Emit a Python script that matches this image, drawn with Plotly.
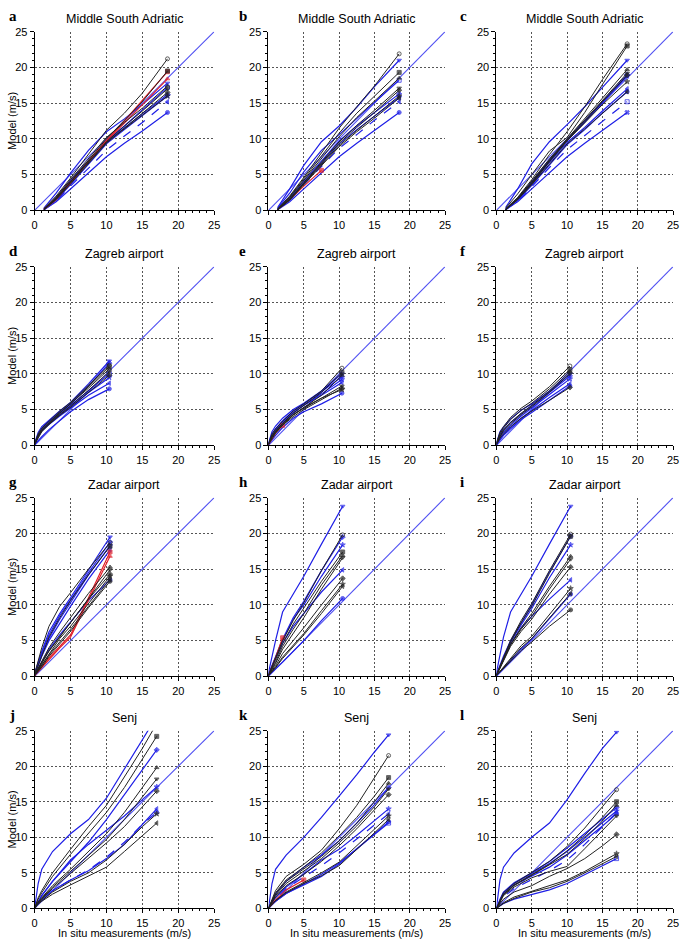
import plotly.graph_objects as go

# ---------------- data ----------------
X_MSA = [1.3, 3, 5, 7.5, 10, 12.5, 15, 18.5]
X_ZAG = [0, 0.5, 1, 2, 3.5, 5, 7.5, 10.4]
X_ZAD = [0, 1, 2, 3.5, 5, 7.5, 10.5]
X_SEN = [0, 0.5, 1, 2.5, 5, 7.5, 10, 12.5, 15, 17]
DIAG = [0, 25]
TICKS = [0, 5, 10, 15, 20, 25]
PANELS = ["a", "b", "c", "d", "e", "f", "g", "h", "i", "j", "k", "l"]
STATIONS = ["Middle South Adriatic", "Zagreb airport", "Zadar airport", "Senj"]
Y_TITLE = "Model (m/s)"
X_TITLE = "In situ measurements (m/s)"

A_BLACK = [
    [0.2, 2.0, 4.5, 7.8, 11.2, 13.6, 16.4, 21.2],
    [0.1, 1.6, 4.0, 7.0, 10.0, 12.6, 15.2, 19.5],
    [0.1, 1.8, 4.3, 7.3, 10.2, 12.3, 14.3, 17.4],
    [0.2, 1.7, 4.0, 6.8, 9.6, 11.8, 13.9, 17.0],
    [0.1, 1.5, 3.7, 6.6, 9.4, 11.5, 13.6, 16.5],
    [0.2, 1.6, 3.9, 6.7, 9.5, 11.4, 13.3, 16.0],
]
A_BLUE = [
    [0.3, 2.4, 5.2, 8.4, 11.0, 12.8, 14.8, 17.8],
    [0.2, 1.8, 4.2, 7.0, 9.6, 11.6, 13.5, 16.2],
    [0.1, 1.4, 3.6, 6.5, 9.3, 11.3, 13.3, 16.0],
    [0.1, 1.3, 3.4, 5.9, 8.4, 10.4, 12.3, 15.2],
    [0.1, 1.2, 3.0, 5.3, 7.5, 9.4, 11.1, 13.7],
    [0.2, 1.6, 4.0, 6.9, 9.7, 11.8, 14.0, 17.2],
]
A_RED = [
    [0.1, 1.5, 3.8, 6.8, 9.8, 12.5, 15.4, 19.4],
    [0.2, 1.7, 4.0, 6.9, 9.7, 12.2, 14.8, 18.4],
]

B_BLACK = [
    [0.2, 2.0, 4.6, 8.0, 11.5, 14.5, 17.4, 21.9],
    [0.2, 1.9, 4.4, 7.6, 10.8, 13.6, 16.0, 19.3],
    [0.1, 1.8, 4.2, 7.2, 10.3, 13.0, 15.3, 18.5],
    [0.1, 1.6, 3.9, 6.8, 9.6, 11.9, 14.0, 17.1],
    [0.1, 1.5, 3.8, 6.6, 9.4, 11.6, 13.7, 16.8],
    [0.1, 1.5, 3.7, 6.4, 9.1, 11.2, 13.2, 16.0],
    [0.1, 1.4, 3.6, 6.3, 8.9, 11.0, 12.9, 15.7],
]
B_BLUE = [
    [0.4, 3.0, 6.3, 9.6, 11.8, 14.4, 17.3, 21.0],
    [0.2, 1.7, 4.1, 6.9, 9.7, 11.8, 13.7, 16.3],
    [0.1, 1.5, 3.8, 6.6, 9.3, 11.3, 13.2, 15.8],
    [0.1, 1.4, 3.6, 6.2, 8.7, 10.6, 12.6, 15.2],
    [0.1, 1.2, 3.0, 5.3, 7.5, 9.4, 11.2, 13.7],
    [0.3, 2.4, 5.4, 8.4, 10.6, 12.9, 15.1, 18.2],
]
B_RED = [
    [0.1, 1.5, 3.4, 5.6],
]

C_BLACK = [
    [0.2, 1.8, 4.3, 7.8, 11.0, 14.5, 18.3, 23.3],
    [0.3, 2.3, 5.0, 8.3, 10.2, 13.7, 17.6, 23.0],
    [0.1, 1.7, 4.1, 7.2, 10.0, 12.8, 15.7, 19.7],
    [0.1, 1.6, 3.9, 7.0, 9.9, 12.6, 15.4, 19.2],
    [0.1, 1.6, 3.8, 6.9, 9.8, 12.4, 15.2, 18.9],
    [0.1, 1.5, 3.7, 6.8, 9.7, 12.2, 14.8, 18.0],
    [0.1, 1.5, 3.6, 6.5, 9.3, 11.4, 13.6, 16.6],
]
C_BLUE = [
    [0.4, 3.0, 6.5, 9.6, 12.0, 14.5, 17.2, 21.0],
    [0.2, 1.7, 4.0, 7.1, 9.9, 12.5, 15.2, 19.0],
    [0.1, 1.6, 3.9, 7.0, 9.8, 12.3, 15.0, 18.8],
    [0.1, 1.5, 3.7, 6.7, 9.5, 11.6, 13.9, 17.0],
    [0.1, 1.4, 3.5, 6.4, 9.2, 11.3, 13.6, 16.6],
    [0.1, 1.3, 3.3, 6.0, 8.5, 10.5, 12.5, 15.2],
    [0.1, 1.2, 3.0, 5.3, 7.5, 9.4, 11.2, 13.7],
]
C_RED = []

D_BLACK = [
    [0.2, 1.6, 2.4, 3.4, 4.8, 6.0, 8.4, 11.2],
    [0.1, 1.3, 2.1, 3.1, 4.5, 5.8, 8.2, 11.0],
    [0.2, 1.4, 2.2, 3.2, 4.6, 5.8, 8.0, 10.7],
    [0.1, 1.2, 2.0, 3.0, 4.3, 5.5, 7.7, 10.3],
    [0.1, 1.1, 1.9, 2.9, 4.2, 5.3, 7.4, 9.8],
]
D_BLUE = [
    [0.3, 1.8, 2.6, 3.5, 4.8, 6.0, 8.6, 11.8],
    [0.2, 1.5, 2.3, 3.3, 4.6, 5.8, 8.3, 11.5],
    [0.1, 1.3, 2.1, 3.0, 4.3, 5.4, 7.4, 9.5],
    [0.1, 1.2, 2.0, 2.9, 4.1, 5.2, 7.0, 8.7],
    [0.1, 0.7, 1.2, 2.2, 3.5, 4.7, 6.4, 7.9],
    [0.2, 1.4, 2.2, 3.1, 4.4, 5.6, 7.6, 10.0],
]
D_RED = []

E_BLACK = [
    [0.2, 1.6, 2.3, 3.4, 4.8, 5.8, 7.6, 10.8],
    [0.1, 1.3, 2.0, 3.1, 4.5, 5.6, 7.4, 10.2],
    [0.1, 1.1, 1.8, 2.8, 4.3, 5.3, 7.0, 9.8],
    [0.2, 1.3, 2.0, 3.0, 4.3, 5.2, 6.6, 8.3],
    [0.1, 1.0, 1.7, 2.8, 4.0, 5.0, 6.4, 8.0],
    [0.1, 1.2, 1.9, 2.9, 4.2, 5.3, 6.6, 7.8],
]
E_BLUE = [
    [0.3, 1.9, 2.7, 3.8, 5.0, 5.9, 7.6, 10.0],
    [0.2, 1.5, 2.3, 3.4, 4.8, 5.8, 7.5, 9.6],
    [0.1, 1.2, 2.0, 3.1, 4.5, 5.6, 7.2, 9.2],
    [0.2, 1.4, 2.2, 3.3, 4.6, 5.6, 7.0, 8.8],
    [0.1, 0.8, 1.4, 2.5, 3.8, 4.7, 5.8, 7.3],
]
E_RED = [
    [0.1, 1.0, 1.7, 2.8],
]

F_BLACK = [
    [0.3, 1.8, 2.6, 3.9, 5.2, 6.2, 8.2, 11.1],
    [0.2, 1.6, 2.4, 3.6, 4.9, 5.9, 7.9, 10.6],
    [0.1, 1.3, 2.1, 3.2, 4.5, 5.6, 7.6, 10.3],
    [0.1, 1.2, 2.0, 3.0, 4.3, 5.4, 7.4, 10.0],
    [0.1, 1.0, 1.6, 2.6, 3.8, 4.8, 6.3, 8.1],
]
F_BLUE = [
    [0.3, 1.9, 2.6, 3.7, 4.9, 5.8, 7.6, 10.0],
    [0.2, 1.5, 2.2, 3.2, 4.4, 5.5, 7.4, 9.7],
    [0.1, 1.1, 1.8, 2.8, 4.1, 5.2, 7.1, 9.3],
    [0.1, 0.9, 1.5, 2.5, 3.8, 4.9, 6.7, 8.6],
    [0.1, 0.8, 1.4, 2.3, 3.6, 4.6, 6.3, 8.3],
]
F_RED = []

G_BLACK = [
    [0.3, 4.0, 7.0, 9.8, 11.7, 15.0, 18.7],
    [0.2, 3.0, 5.5, 8.2, 10.6, 14.2, 18.2],
    [0.2, 2.2, 4.0, 6.2, 8.2, 11.6, 15.3],
    [0.1, 1.8, 3.5, 5.5, 7.5, 11.0, 14.9],
    [0.1, 2.0, 3.6, 5.6, 7.5, 10.8, 14.3],
    [0.1, 1.6, 3.2, 5.3, 7.0, 10.2, 14.0],
    [0.1, 1.5, 3.0, 4.8, 6.6, 9.8, 13.6],
    [0.1, 1.3, 2.8, 4.5, 6.3, 9.6, 13.3],
]
G_BLUE = [
    [0.4, 3.5, 6.2, 8.8, 11.0, 14.8, 19.5],
    [0.3, 3.3, 5.8, 8.5, 10.7, 14.5, 18.8],
    [0.3, 3.0, 5.3, 8.0, 10.3, 14.2, 18.3],
    [0.2, 2.8, 5.0, 7.5, 9.8, 13.6, 17.7],
    [0.1, 1.9, 3.8, 5.8, 7.6, 10.6, 13.5],
]
G_RED = [
    [0.1, 1.3, 2.6, 4.2, 5.8, 11.0, 17.4],
    [0.1, 1.2, 2.4, 4.0, 5.5, 10.6, 16.8],
]

H_BLACK = [
    [0.2, 2.5, 5.0, 7.8, 10.3, 14.8, 19.8],
    [0.2, 2.3, 4.6, 7.3, 9.5, 13.3, 17.4],
    [0.1, 2.0, 4.2, 6.6, 8.8, 12.8, 16.9],
    [0.1, 1.8, 3.8, 6.0, 8.2, 12.2, 16.6],
    [0.1, 1.5, 3.2, 5.0, 6.8, 10.0, 13.7],
    [0.1, 1.3, 2.7, 4.4, 6.0, 9.2, 12.9],
    [0.1, 1.2, 2.5, 4.2, 5.8, 8.8, 12.6],
]
H_BLUE = [
    [0.5, 5.0, 9.0, 11.5, 14.0, 18.5, 23.8],
    [0.3, 2.8, 5.2, 8.2, 10.5, 14.8, 19.5],
    [0.2, 2.6, 5.0, 8.0, 10.0, 14.0, 18.4],
    [0.2, 2.4, 4.6, 7.0, 8.8, 11.8, 14.9],
    [0.1, 1.0, 2.0, 3.5, 5.0, 7.8, 10.9],
]
H_RED = [
    [0.1, 2.6, 5.4],
]

I_BLACK = [
    [0.2, 2.6, 5.0, 7.8, 10.2, 14.8, 19.9],
    [0.2, 2.5, 4.8, 7.5, 9.8, 14.4, 19.6],
    [0.2, 2.3, 4.5, 6.8, 8.8, 12.6, 16.8],
    [0.1, 2.2, 4.4, 6.6, 8.4, 12.2, 16.4],
    [0.1, 2.1, 4.2, 6.3, 8.0, 11.5, 15.3],
    [0.1, 1.3, 2.6, 4.3, 5.6, 8.6, 12.3],
    [0.1, 1.2, 2.4, 4.0, 5.3, 8.2, 11.6],
    [0.1, 1.1, 2.2, 3.6, 4.8, 7.0, 9.3],
]
I_BLUE = [
    [0.5, 5.5, 9.0, 11.5, 14.0, 18.5, 23.8],
    [0.3, 2.8, 5.0, 7.6, 10.0, 14.6, 19.6],
    [0.2, 2.6, 4.8, 7.2, 9.5, 13.8, 18.4],
    [0.2, 2.5, 4.6, 6.8, 8.4, 10.8, 13.5],
    [0.1, 1.2, 2.3, 3.8, 5.2, 8.0, 11.5],
]
I_RED = []

J_BLACK = [
    [0, 1.5, 2.5, 5.0, 8.3, 11.5, 14.5, 18.5, 22.5, 26.0],
    [0, 1.3, 2.2, 4.5, 7.6, 10.5, 13.5, 17.0, 21.0, 24.2],
    [0, 0.9, 1.5, 3.2, 5.5, 8.0, 10.5, 13.5, 17.0, 19.8],
    [0, 0.8, 1.4, 3.0, 5.2, 7.4, 9.7, 12.5, 15.7, 18.2],
    [0, 0.8, 1.3, 2.8, 4.9, 7.0, 9.2, 11.5, 14.3, 16.5],
    [0, 0.7, 1.1, 2.3, 3.8, 5.0, 6.8, 9.0, 11.5, 13.3],
    [0, 0.6, 1.0, 2.0, 3.3, 4.5, 5.8, 8.0, 10.3, 12.0],
]
J_BLUE = [
    [0, 3.5, 5.5, 8.0, 10.5, 12.5, 15.5, 19.5, 23.5, 27.0],
    [0, 1.0, 1.8, 3.8, 6.5, 9.3, 12.5, 16.0, 19.5, 22.3],
    [0, 1.0, 1.8, 3.8, 6.8, 9.0, 11.0, 13.0, 15.3, 17.1],
    [0, 0.7, 1.2, 2.5, 4.0, 5.3, 7.0, 9.0, 11.8, 14.0],
    [0, 0.7, 1.2, 2.5, 4.0, 5.4, 7.2, 9.3, 11.8, 13.5],
]
J_RED = []

K_BLACK = [
    [0, 1.2, 2.5, 4.5, 6.2, 8.2, 11.2, 14.5, 18.3, 21.5],
    [0, 1.0, 2.2, 4.0, 5.8, 7.8, 10.2, 12.8, 15.8, 18.4],
    [0, 1.0, 2.0, 3.8, 5.5, 7.3, 9.5, 12.0, 15.0, 17.6],
    [0, 0.9, 1.8, 3.5, 5.2, 7.0, 9.2, 11.6, 14.3, 16.8],
    [0, 0.8, 1.6, 3.2, 4.8, 6.6, 8.8, 11.2, 13.8, 16.0],
    [0, 0.6, 1.1, 2.3, 3.6, 5.0, 6.5, 8.8, 11.2, 13.0],
    [0, 0.6, 1.1, 2.2, 3.5, 4.6, 6.0, 8.3, 10.7, 12.5],
]
K_BLUE = [
    [0, 3.5, 5.5, 7.5, 10.0, 12.8, 15.8, 18.8, 22.0, 24.4],
    [0, 1.0, 2.0, 3.8, 5.8, 7.5, 9.5, 12.0, 14.6, 17.0],
    [0, 0.8, 1.5, 3.0, 4.8, 6.8, 8.3, 10.3, 12.3, 14.0],
    [0, 0.7, 1.3, 2.8, 4.4, 6.0, 7.8, 9.8, 11.8, 13.3],
    [0, 0.6, 1.0, 2.1, 3.3, 4.5, 6.2, 8.3, 10.5, 12.2],
    [0, 0.5, 1.0, 2.1, 3.4, 4.8, 6.4, 8.4, 10.3, 12.0],
]
K_RED = [
    [0, 0.6, 1.2, 2.6, 4.0],
]

L_BLACK = [
    [0, 1.2, 2.2, 3.5, 5.0, 6.6, 8.7, 11.3, 14.3, 16.7],
    [0, 1.1, 2.0, 3.3, 4.8, 6.2, 8.1, 10.3, 12.8, 15.0],
    [0, 1.0, 1.9, 3.2, 4.7, 6.1, 7.6, 9.8, 12.3, 14.5],
    [0, 1.0, 1.8, 3.0, 4.3, 5.2, 5.9, 8.4, 11.0, 13.0],
    [0, 0.7, 1.3, 2.3, 3.2, 4.5, 5.6, 7.0, 8.8, 10.4],
    [0, 0.4, 0.8, 1.6, 2.4, 3.1, 4.0, 5.2, 6.6, 7.7],
    [0, 0.4, 0.7, 1.4, 2.3, 2.9, 3.8, 5.0, 6.3, 7.3],
]
L_BLUE = [
    [0, 4.0, 5.8, 7.8, 10.0, 12.0, 15.3, 19.0, 22.5, 24.8],
    [0, 1.3, 2.3, 3.6, 5.0, 6.6, 8.5, 10.5, 12.5, 14.2],
    [0, 1.2, 2.2, 3.5, 4.9, 6.3, 8.0, 10.0, 12.0, 13.7],
    [0, 0.9, 1.6, 2.8, 4.0, 5.3, 6.8, 9.0, 11.5, 13.5],
    [0, 1.0, 2.0, 3.3, 4.6, 5.8, 7.5, 9.5, 11.6, 13.3],
    [0, 0.4, 0.7, 1.3, 1.9, 2.6, 3.5, 4.8, 6.0, 7.0],
]
L_RED = []

# ---------------- assembly ----------------
PANEL_DATA = {
    "a": (X_MSA, A_BLACK, A_BLUE, A_RED), "b": (X_MSA, B_BLACK, B_BLUE, B_RED),
    "c": (X_MSA, C_BLACK, C_BLUE, C_RED), "d": (X_ZAG, D_BLACK, D_BLUE, D_RED),
    "e": (X_ZAG, E_BLACK, E_BLUE, E_RED), "f": (X_ZAG, F_BLACK, F_BLUE, F_RED),
    "g": (X_ZAD, G_BLACK, G_BLUE, G_RED), "h": (X_ZAD, H_BLACK, H_BLUE, H_RED),
    "i": (X_ZAD, I_BLACK, I_BLUE, I_RED), "j": (X_SEN, J_BLACK, J_BLUE, J_RED),
    "k": (X_SEN, K_BLACK, K_BLUE, K_RED), "l": (X_SEN, L_BLACK, L_BLUE, L_RED),
}
DASHED_BLUE = {"a": 3, "b": 3, "c": 5, "j": 4, "k": 3, "l": 3}

W, H = 685, 944
COLS = [(32, 214), (269, 448), (500, 679)]
ROWS = [(26, 207), (264, 445), (498, 679), (734, 914)]
SYMS = ["circle-open", "square", "triangle-up", "triangle-down", "diamond",
        "star", "triangle-left", "circle", "square-open", "x"]
BLACK = "#222222"
BLUE = "#1f1fe6"
RED = "#e0202a"
DIAGC = "#5050f2"
FONT = "Liberation Sans, Arial, sans-serif"

fig = go.Figure()
layout = dict(width=W, height=H, margin=dict(l=0, r=0, t=0, b=0),
              paper_bgcolor="white", plot_bgcolor="white", showlegend=False,
              font=dict(family=FONT, color="black", size=11))
annotations = []

for idx, p in enumerate(PANELS):
    r, c = divmod(idx, 3)
    k = idx + 1
    xs = "x" if k == 1 else f"x{k}"
    ys = "y" if k == 1 else f"y{k}"
    x0, x1 = COLS[c]
    y0, y1 = ROWS[r]
    axcommon = dict(range=[0, 25], tickvals=TICKS, showgrid=True, gridcolor="#555555",
                    griddash="2px,2px", gridwidth=1, showline=True, linecolor="black",
                    linewidth=1, ticks="outside", ticklen=4, tickcolor="black",
                    zeroline=False, tickfont=dict(size=11, family=FONT),
                    minor=dict(dtick=1, ticks="outside", ticklen=2, tickcolor="black",
                               showgrid=False))
    layout["xaxis" if k == 1 else f"xaxis{k}"] = dict(
        axcommon, domain=[x0 / W, x1 / W], anchor=ys, ticklabelstandoff=0)
    layout["yaxis" if k == 1 else f"yaxis{k}"] = dict(
        axcommon, domain=[1 - y1 / H, 1 - y0 / H], anchor=xs)

    X, blacks, blues, reds = PANEL_DATA[p]
    fig.add_trace(go.Scatter(x=DIAG, y=DIAG, mode="lines", xaxis=xs, yaxis=ys,
                             line=dict(color=DIAGC, width=1.1)))

    def add(yv, color, sym, dash="solid", width=1.0):
        xv = X[:len(yv)]
        n = len(yv)
        sizes = [0] * (n - 1) + [4]
        fig.add_trace(go.Scatter(x=xv, y=yv, mode="lines+markers", xaxis=xs, yaxis=ys,
                                 line=dict(color=color, width=width, dash=dash),
                                 marker=dict(size=sizes, symbol=sym, color=color,
                                             line=dict(color=color, width=1)),
                                 cliponaxis=True))

    for j, yv in enumerate(blues):
        dash = "dash" if DASHED_BLUE.get(p) == j else "solid"
        add(yv, BLUE, SYMS[(j + 3) % len(SYMS)], dash, 1.2)
    for j, yv in enumerate(reds):
        add(yv, RED, SYMS[(j + 1) % len(SYMS)], "solid", 1.2)
    for j, yv in enumerate(blacks):
        add(yv, BLACK, SYMS[j % len(SYMS)], "solid", 1.0)

    annotations.append(dict(text=STATIONS[r], x=(x0 + x1) / 2 / W, y=1 - (y0 - 13) / H,
                            xref="paper", yref="paper", showarrow=False,
                            xanchor="center", yanchor="middle",
                            font=dict(size=12.5, family=FONT)))
    lx = [4, 237, 461][c]
    annotations.append(dict(text=f"<b>{p}</b>", x=lx / W, y=1 - (y0 - 16) / H,
                            xref="paper", yref="paper", showarrow=False,
                            xanchor="left", yanchor="middle",
                            font=dict(size=15, family="Liberation Serif, serif")))
    if c == 0:
        annotations.append(dict(text=Y_TITLE, x=9 / W, y=1 - (y0 + y1) / 2 / H,
                                xref="paper", yref="paper", showarrow=False, textangle=-90,
                                xanchor="center", yanchor="middle",
                                font=dict(size=11, family=FONT)))
    if r == 3:
        annotations.append(dict(text=X_TITLE, x=(x0 + x1) / 2 / W, y=1 - 938.5 / H,
                                xref="paper", yref="paper", showarrow=False,
                                xanchor="center", yanchor="middle",
                                font=dict(size=11, family=FONT)))

layout["annotations"] = annotations
fig.update_layout(**layout)
fig.write_html("out.html", config={"displayModeBar": False},
               post_script="document.body.style.margin='0px';"
                           "document.body.style.overflow='hidden';")
